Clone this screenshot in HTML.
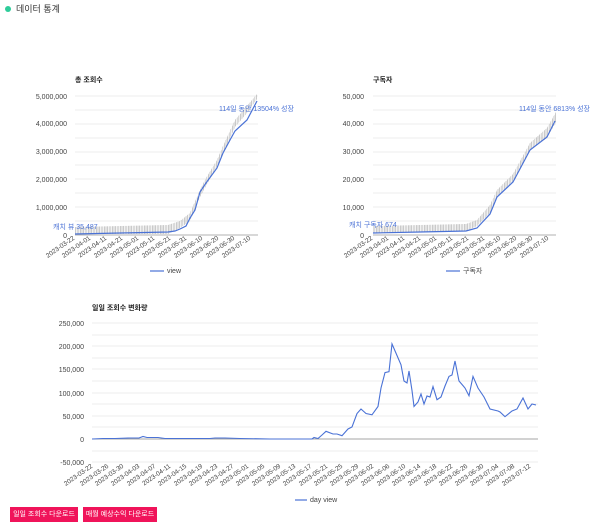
<!DOCTYPE html>
<html><head><meta charset="utf-8"><style>
body{margin:0;background:#fff;width:600px;height:525px;overflow:hidden;font-family:"Liberation Sans","Noto Sans CJK KR",sans-serif}
svg text{font-family:"Liberation Sans","Noto Sans CJK KR",sans-serif}
.btn{position:absolute;top:507px;height:15px;background:#f0145a;color:#fff;font-size:7px;line-height:15px;text-align:center}
</style></head><body>
<svg width="600" height="525" style="position:absolute;left:0;top:0">
<defs><pattern id="h" width="1.6" height="4" patternUnits="userSpaceOnUse"><rect width="0.8" height="4" fill="#bdbdbd"/></pattern></defs>
<circle cx="8" cy="9" r="3" fill="#2ecc9a"/>
<text x="16" y="12" font-size="9" fill="#333">데이터 통계</text>

<!-- top left -->
<text x="75" y="82" font-size="7" font-weight="bold" fill="#222">총 조회수</text>
<g stroke="#e6e6e6" stroke-width="0.7">
<line x1="75" x2="258" y1="96" y2="96"/><line x1="75" x2="258" y1="110" y2="110"/><line x1="75" x2="258" y1="124" y2="124"/><line x1="75" x2="258" y1="138" y2="138"/><line x1="75" x2="258" y1="152" y2="152"/><line x1="75" x2="258" y1="165" y2="165"/><line x1="75" x2="258" y1="179" y2="179"/><line x1="75" x2="258" y1="193" y2="193"/><line x1="75" x2="258" y1="207" y2="207"/><line x1="75" x2="258" y1="221" y2="221"/></g>
<line x1="75" x2="258" y1="235" y2="235" stroke="#999" stroke-width="0.8"/>
<g font-size="7" fill="#444" text-anchor="end"><text x="67" y="99">5,000,000</text><text x="67" y="126">4,000,000</text><text x="67" y="154">3,000,000</text><text x="67" y="182">2,000,000</text><text x="67" y="210">1,000,000</text><text x="67" y="238">0</text></g>
<polygon points="75,227 168,225 180,221 190,213 200,190 206,178 217,160 223,146 235,120 247,106 257,94 257,99 247,113 235,127 223,154 217,166 206,186 200,197 190,221 180,228 168,234 75,234" fill="url(#h)"/>
<polyline points="75,234 120,233 168,232 175,231 180,229 186,226 190,218 195,210 200,192 206,183 217,168 223,153 230,140 235,131 247,120 257,101" fill="none" stroke="#4a72d6" stroke-width="1.2"/>
<text x="53" y="229" font-size="7" fill="#4a72d6">캐치 뷰 35,487</text>
<text x="219" y="111" font-size="7" fill="#4a72d6">114일 동안 13504% 성장</text>
<g font-size="6.5" fill="#444" text-anchor="end">
<text transform="translate(75,239) rotate(-35)">2023-03-22</text><text transform="translate(91,239) rotate(-35)">2023-04-01</text><text transform="translate(107,239) rotate(-35)">2023-04-11</text><text transform="translate(123,239) rotate(-35)">2023-04-21</text><text transform="translate(139,239) rotate(-35)">2023-05-01</text><text transform="translate(155,239) rotate(-35)">2023-05-11</text><text transform="translate(171,239) rotate(-35)">2023-05-21</text><text transform="translate(187,239) rotate(-35)">2023-05-31</text><text transform="translate(203,239) rotate(-35)">2023-06-10</text><text transform="translate(219,239) rotate(-35)">2023-06-20</text><text transform="translate(235,239) rotate(-35)">2023-06-30</text><text transform="translate(251,239) rotate(-35)">2023-07-10</text></g>
<line x1="150" x2="164" y1="271" y2="271" stroke="#4a72d6" stroke-width="1.2"/><text x="167" y="273" font-size="7" fill="#444">view</text>

<!-- top right -->
<text x="373" y="82" font-size="7" font-weight="bold" fill="#222">구독자</text>
<g stroke="#e6e6e6" stroke-width="0.7">
<line x1="373" x2="556" y1="96" y2="96"/><line x1="373" x2="556" y1="110" y2="110"/><line x1="373" x2="556" y1="124" y2="124"/><line x1="373" x2="556" y1="138" y2="138"/><line x1="373" x2="556" y1="152" y2="152"/><line x1="373" x2="556" y1="165" y2="165"/><line x1="373" x2="556" y1="179" y2="179"/><line x1="373" x2="556" y1="193" y2="193"/><line x1="373" x2="556" y1="207" y2="207"/><line x1="373" x2="556" y1="221" y2="221"/></g>
<line x1="373" x2="556" y1="235" y2="235" stroke="#999" stroke-width="0.8"/>
<g font-size="7" fill="#444" text-anchor="end"><text x="364" y="99">50,000</text><text x="364" y="126">40,000</text><text x="364" y="154">30,000</text><text x="364" y="182">20,000</text><text x="364" y="210">10,000</text><text x="364" y="238">0</text></g>
<polygon points="373,226 466,224 477,220 490,205 497,190 513,174 530,143 547,128 556,112 556,122 547,138 530,150 513,181 497,196 490,213 477,226 466,231 373,233" fill="url(#h)"/>
<polyline points="373,233 420,232 466,231 477,228 490,214 497,197 513,182 530,150 547,137 555,121" fill="none" stroke="#4a72d6" stroke-width="1.2"/>
<text x="349" y="227" font-size="7" fill="#4a72d6">캐치 구독자 674</text>
<text x="519" y="111" font-size="7" fill="#4a72d6">114일 동안 6813% 성장</text>
<g font-size="6.5" fill="#444" text-anchor="end">
<text transform="translate(373,239) rotate(-35)">2023-03-22</text><text transform="translate(389,239) rotate(-35)">2023-04-01</text><text transform="translate(405,239) rotate(-35)">2023-04-11</text><text transform="translate(421,239) rotate(-35)">2023-04-21</text><text transform="translate(437,239) rotate(-35)">2023-05-01</text><text transform="translate(453,239) rotate(-35)">2023-05-11</text><text transform="translate(469,239) rotate(-35)">2023-05-21</text><text transform="translate(485,239) rotate(-35)">2023-05-31</text><text transform="translate(501,239) rotate(-35)">2023-06-10</text><text transform="translate(517,239) rotate(-35)">2023-06-20</text><text transform="translate(533,239) rotate(-35)">2023-06-30</text><text transform="translate(549,239) rotate(-35)">2023-07-10</text></g>
<line x1="446" x2="460" y1="271" y2="271" stroke="#4a72d6" stroke-width="1.2"/><text x="463" y="273" font-size="7" fill="#444">구독자</text>

<!-- bottom -->
<text x="92" y="310" font-size="7" font-weight="bold" fill="#222">일일 조회수 변화량</text>
<g stroke="#e6e6e6" stroke-width="0.7">
<line x1="92" x2="538" y1="323" y2="323"/><line x1="92" x2="538" y1="335" y2="335"/><line x1="92" x2="538" y1="346" y2="346"/><line x1="92" x2="538" y1="358" y2="358"/><line x1="92" x2="538" y1="369" y2="369"/><line x1="92" x2="538" y1="381" y2="381"/><line x1="92" x2="538" y1="393" y2="393"/><line x1="92" x2="538" y1="404" y2="404"/><line x1="92" x2="538" y1="416" y2="416"/><line x1="92" x2="538" y1="427" y2="427"/><line x1="92" x2="538" y1="451" y2="451"/><line x1="92" x2="538" y1="462" y2="462"/></g>
<line x1="92" x2="538" y1="439" y2="439" stroke="#888" stroke-width="0.8"/>
<g font-size="7" fill="#444" text-anchor="end"><text x="84" y="326">250,000</text><text x="84" y="349">200,000</text><text x="84" y="372">150,000</text><text x="84" y="396">100,000</text><text x="84" y="419">50,000</text><text x="84" y="442">0</text><text x="84" y="465">-50,000</text></g>
<polyline fill="none" stroke="#4a72d6" stroke-width="1.1" points="92,439 103,438.5 115,438.5 130,438 139,438 143,436.5 147,437.5 158,437.5 165,438.5 185,438.5 210,438.5 215,438 225,438 240,438.5 270,439 300,439 312,439 314,437.5 318,438.5 322,435 326,431.3 333,434 337,434 342,435.7 348,429 352,427 357,413.5 361,409 366,413.5 372,414.8 378,406.5 381,388 385,372.6 389,371.7 392,343.9 397,355.5 401,364.8 404,381 407,383 409,371 412,390.5 414,406.5 418,402 421,394 424,404 427,396 430,397 433,386.6 437,399.7 441,397 445,386 449,376.4 452,375 455,361 459,381 463,385.6 465,388 469,395.7 473,376.4 478,388 484,397 490,409 498,411 500,412 505,416.7 512,411 517,409 523,398 528,409 532,404 536,405"/>
<g font-size="6.5" fill="#444" text-anchor="end">
<text transform="translate(93,467) rotate(-35)">2023-03-22</text><text transform="translate(109,467) rotate(-35)">2023-03-26</text><text transform="translate(124,467) rotate(-35)">2023-03-30</text><text transform="translate(140,467) rotate(-35)">2023-04-03</text><text transform="translate(156,467) rotate(-35)">2023-04-07</text><text transform="translate(171,467) rotate(-35)">2023-04-11</text><text transform="translate(187,467) rotate(-35)">2023-04-15</text><text transform="translate(203,467) rotate(-35)">2023-04-19</text><text transform="translate(218,467) rotate(-35)">2023-04-23</text><text transform="translate(234,467) rotate(-35)">2023-04-27</text><text transform="translate(249,467) rotate(-35)">2023-05-01</text><text transform="translate(265,467) rotate(-35)">2023-05-05</text><text transform="translate(281,467) rotate(-35)">2023-05-09</text><text transform="translate(296,467) rotate(-35)">2023-05-13</text><text transform="translate(312,467) rotate(-35)">2023-05-17</text><text transform="translate(328,467) rotate(-35)">2023-05-21</text><text transform="translate(343,467) rotate(-35)">2023-05-25</text><text transform="translate(359,467) rotate(-35)">2023-05-29</text><text transform="translate(374,467) rotate(-35)">2023-06-02</text><text transform="translate(390,467) rotate(-35)">2023-06-06</text><text transform="translate(406,467) rotate(-35)">2023-06-10</text><text transform="translate(421,467) rotate(-35)">2023-06-14</text><text transform="translate(437,467) rotate(-35)">2023-06-18</text><text transform="translate(453,467) rotate(-35)">2023-06-22</text><text transform="translate(468,467) rotate(-35)">2023-06-26</text><text transform="translate(484,467) rotate(-35)">2023-06-30</text><text transform="translate(499,467) rotate(-35)">2023-07-04</text><text transform="translate(515,467) rotate(-35)">2023-07-08</text><text transform="translate(531,467) rotate(-35)">2023-07-12</text></g>
<line x1="295" x2="307" y1="500" y2="500" stroke="#4a72d6" stroke-width="1.2"/><text x="310" y="502" font-size="7" fill="#444">day view</text>
</svg>
<div class="btn" style="left:10px;width:68px">일일 조회수 다운로드</div>
<div class="btn" style="left:83px;width:74px">매월 예상수익 다운로드</div>
</body></html>
